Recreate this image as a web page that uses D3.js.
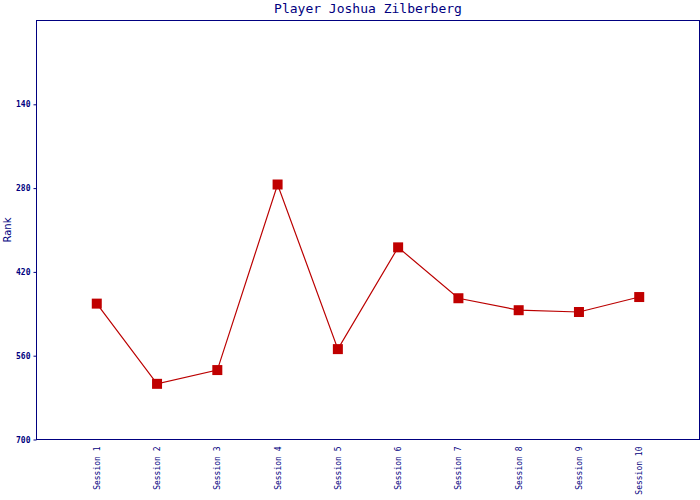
<!DOCTYPE html>
<html><head><meta charset="utf-8">
<script src="https://cdn.jsdelivr.net/npm/d3@7"></script>
<style>body{margin:0;background:#fff}</style>
</head><body>
<svg id="c" width="700" height="500"></svg>
<script>
const sessions = ["Session 1","Session 2","Session 3","Session 4","Session 5","Session 6","Session 7","Session 8","Session 9","Session 10"];
const ranks = [473, 607, 584, 274, 549, 379, 464, 484, 487, 462];
const yTicks = [140, 280, 420, 560, 700];

const svg = d3.select("#c");
const L = 36.5, R = 699.5, T = 20.5, B = 439.5;
const navy = "#000080";
const x = d3.scalePoint().domain(sessions).range([L, R]).padding(1);
const y = d3.scaleLinear().domain([0, 700]).range([T, B]);

svg.append("rect").attr("x", L).attr("y", T).attr("width", R - L).attr("height", B - T)
  .attr("fill", "none").attr("stroke", navy).attr("stroke-width", 1);

const ya = svg.append("g").attr("transform", `translate(${L},0)`)
  .call(d3.axisLeft(y).tickValues(yTicks).tickSize(3).tickPadding(3));
ya.select(".domain").remove();
ya.selectAll("line").attr("stroke", navy);
ya.selectAll("text").attr("fill", navy).style("font-family", "DejaVu Sans Mono").style("font-size", "8px").style("font-weight", "bold");

const xa = svg.append("g").attr("transform", `translate(0,${B})`)
  .call(d3.axisBottom(x).tickSize(0));
xa.select(".domain").remove();
xa.selectAll("text").attr("fill", navy).style("font-family", "DejaVu Sans Mono").style("font-size", "8px")
  .attr("transform", "rotate(-90)").attr("text-anchor", "end").attr("x", -7).attr("y", 0).attr("dy", "0.32em");

svg.append("text").attr("x", (L + R) / 2).attr("y", 13).attr("text-anchor", "middle")
  .attr("fill", navy).style("font-family", "DejaVu Sans Mono").style("font-size", "13px")
  .text("Player Joshua Zilberberg");

svg.append("text").attr("transform", `translate(11,${(T + B) / 2}) rotate(-90)`).attr("text-anchor", "middle")
  .attr("fill", navy).style("font-family", "DejaVu Sans").style("font-size", "10px").text("Rank");

const line = d3.line().x((d, i) => x(sessions[i])).y(d => y(d));
svg.append("path").datum(ranks).attr("d", line).attr("fill", "none").attr("stroke", "#bb0000").attr("stroke-width", 1.2);

svg.selectAll("rect.m").data(ranks).join("rect").attr("class", "m")
  .attr("x", (d, i) => x(sessions[i]) - 5).attr("y", d => y(d) - 5)
  .attr("width", 10).attr("height", 10).attr("fill", "#c00000");
</script>
</body></html>
